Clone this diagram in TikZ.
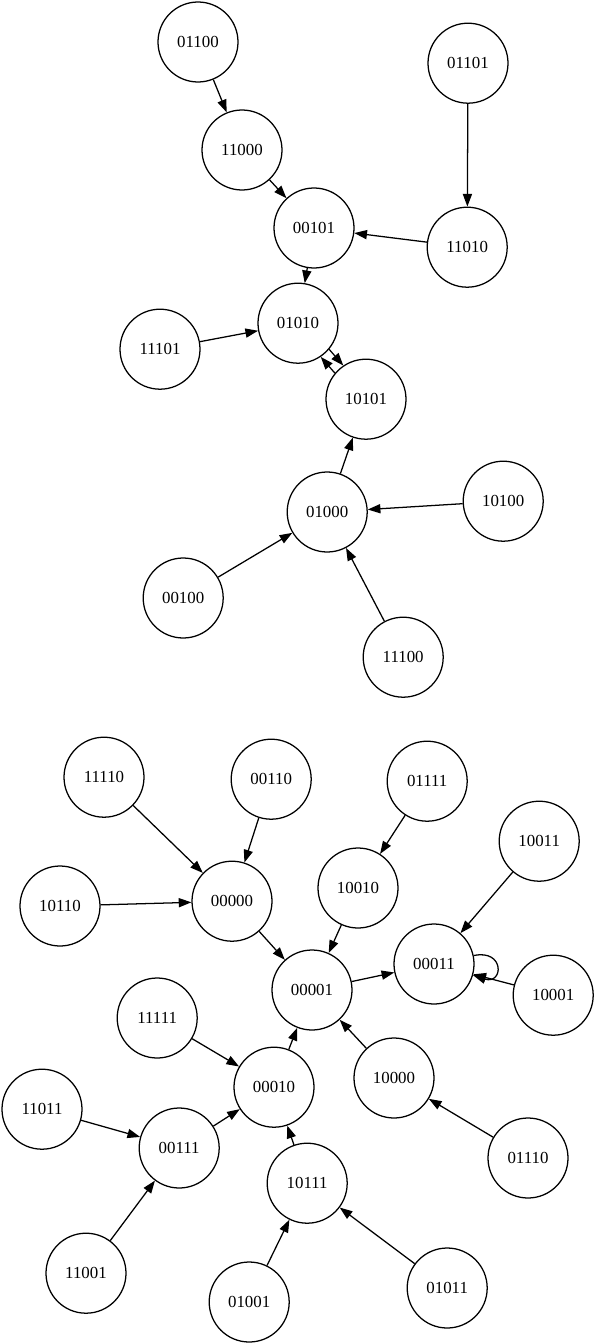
\documentclass[tikz,border=0pt]{standalone}
\usepackage{fontspec}
\setmainfont{Liberation Serif}
\usepackage{tikz}
\usetikzlibrary{arrows.meta}

\begin{document}
\begin{tikzpicture}[
  >={Triangle[length=9pt,width=6.5pt]},
  font=\fontsize{12}{14}\selectfont,
  vertex/.style={
    draw,
    circle,
    line width=0.9pt,
    minimum size=2cm,
    inner sep=0pt
  },
  arrow/.style={->, line width=0.9pt}
]
  \useasboundingbox (0,0) rectangle (14.875,-33.575);

  % upper component
  \node[vertex] (s01100) at (4.95,-1.05) {01100};
  \node[vertex] (s11000) at (6.05,-3.75) {11000};
  \node[vertex] (s01101) at (11.70,-1.58) {01101};
  \node[vertex] (s00101) at (7.85,-5.70) {00101};
  \node[vertex] (s11010) at (11.68,-6.18) {11010};
  \node[vertex] (s01010) at (7.45,-8.08) {01010};
  \node[vertex] (s11101) at (4.00,-8.73) {11101};
  \node[vertex] (s10101) at (9.15,-9.98) {10101};
  \node[vertex] (s01000) at (8.18,-12.80) {01000};
  \node[vertex] (s10100) at (12.58,-12.53) {10100};
  \node[vertex] (s00100) at (4.58,-14.95) {00100};
  \node[vertex] (s11100) at (10.08,-16.43) {11100};

  \draw[arrow] (s01100) -- (s11000);
  \draw[arrow] (s11000) -- (s00101);
  \draw[arrow] (s01101) -- (s11010);
  \draw[arrow] (s11010) -- (s00101);
  \draw[arrow] (s00101) -- (s01010);
  \draw[arrow] (s11101) -- (s01010);
  \draw[arrow] (s01010.-40) -- (s10101.124);
  \draw[arrow] (s10101.140) -- (s01010.-56);
  \draw[arrow] (s01000) -- (s10101);
  \draw[arrow] (s10100) -- (s01000);
  \draw[arrow] (s00100) -- (s01000);
  \draw[arrow] (s11100) -- (s01000);

  % lower component
  \node[vertex] (s11110) at (2.60,-19.43) {11110};
  \node[vertex] (s00110) at (6.78,-19.48) {00110};
  \node[vertex] (s01111) at (10.68,-19.53) {01111};
  \node[vertex] (s10011) at (13.48,-21.03) {10011};
  \node[vertex] (s10110) at (1.50,-22.65) {10110};
  \node[vertex] (s00000) at (5.80,-22.53) {00000};
  \node[vertex] (s10010) at (8.95,-22.20) {10010};
  \node[vertex] (s00011) at (10.85,-24.10) {00011};
  \node[vertex] (s00001) at (7.80,-24.75) {00001};
  \node[vertex] (s10001) at (13.83,-24.88) {10001};
  \node[vertex] (s11111) at (3.93,-25.45) {11111};
  \node[vertex] (s10000) at (9.85,-26.95) {10000};
  \node[vertex] (s00010) at (6.85,-27.18) {00010};
  \node[vertex] (s11011) at (1.05,-27.73) {11011};
  \node[vertex] (s00111) at (4.48,-28.70) {00111};
  \node[vertex] (s01110) at (13.20,-28.95) {01110};
  \node[vertex] (s10111) at (7.68,-29.58) {10111};
  \node[vertex] (s11001) at (2.15,-31.83) {11001};
  \node[vertex] (s01001) at (6.23,-32.55) {01001};
  \node[vertex] (s01011) at (11.18,-32.20) {01011};

  \draw[arrow] (s11110) -- (s00000);
  \draw[arrow] (s00110) -- (s00000);
  \draw[arrow] (s10110) -- (s00000);
  \draw[arrow] (s00000) -- (s00001);
  \draw[arrow] (s01111) -- (s10010);
  \draw[arrow] (s10010) -- (s00001);
  \draw[arrow] (s00001) -- (s00011);
  \draw[arrow] (s10011) -- (s00011);
  \draw[arrow] (s10001) -- (s00011);
  \draw[arrow] (s00011.12) .. controls +(12:0.8) and +(-18:0.8) .. (s00011.-16);
  \draw[arrow] (s10000) -- (s00001);
  \draw[arrow] (s01110) -- (s10000);
  \draw[arrow] (s00010) -- (s00001);
  \draw[arrow] (s11111) -- (s00010);
  \draw[arrow] (s00111) -- (s00010);
  \draw[arrow] (s11011) -- (s00111);
  \draw[arrow] (s11001) -- (s00111);
  \draw[arrow] (s10111) -- (s00010);
  \draw[arrow] (s01001) -- (s10111);
  \draw[arrow] (s01011) -- (s10111);
\end{tikzpicture}
\end{document}
